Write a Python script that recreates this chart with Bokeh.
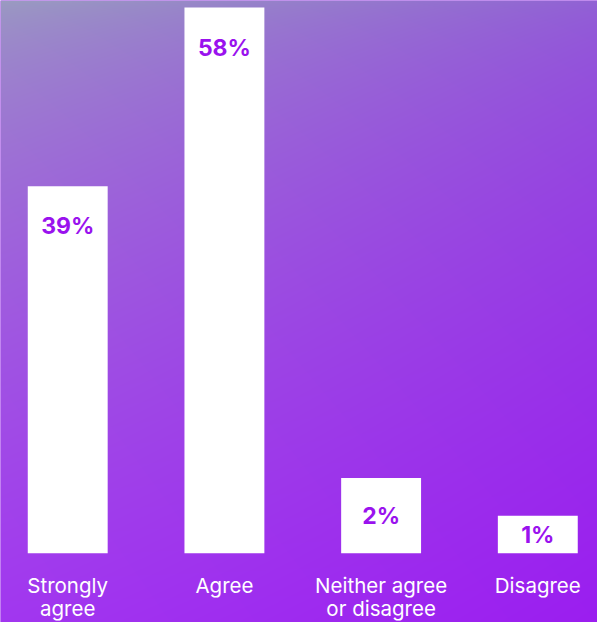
import numpy as np
from bokeh.plotting import figure
from bokeh.models import Range1d, ColumnDataSource
from bokeh.core.properties import value
from bokeh.embed import file_html
from bokeh.resources import INLINE

categories = ["Strongly\nagree", "Agree", "Neither agree\nor disagree", "Disagree"]
values = [39, 58, 2, 1]
labels = ["39%", "58%", "2%", "1%"]

W, H = 597, 622
X0, X1 = -0.429, 3.381
Y0, Y1 = -7.35, 58.75
# infographic style: very small bars are magnified so their labels fit
bar_top = [v if v >= 10 else v * 4 for v in values]
label_y = [max(t - 4.25, t / 2) for t in bar_top]
xs = list(range(len(categories)))

src = ColumnDataSource(dict(x=xs, top=bar_top, ly=label_y, lab=labels, cat=categories))

p = figure(width=W, height=H, output_backend="svg", toolbar_location=None,
           x_range=Range1d(X0, X1), y_range=Range1d(Y0, Y1),
           min_border=0)
p.axis.visible = False
p.grid.visible = False
p.outline_line_color = None
p.background_fill_color = "#a030f0"
p.border_fill_color = "#a030f0"

# background gradient
gx = np.linspace(0, 1, W)[None, :]
gy = np.linspace(0, 1, H)[:, None]
ty = gy ** 0.6
tl = np.array([154, 158, 192.0]); tr = np.array([145, 100, 212.0])
bl = np.array([162, 55, 240.0]); br = np.array([155, 30, 240.0])
img = np.zeros((H, W, 4), dtype=np.uint8)
for c in range(3):
    top_c = tl[c] * (1 - gx) + tr[c] * gx
    bot_c = bl[c] * (1 - gx) + br[c] * gx
    img[:, :, c] = np.clip(top_c * (1 - ty) + bot_c * ty, 0, 255).astype(np.uint8)
img[:, :, 3] = 255
img = img[::-1]
packed = img.view(dtype=np.uint32).reshape((H, W))
p.image_rgba(image=[packed], x=X0, y=Y0, dw=X1 - X0, dh=Y1 - Y0)

p.vbar(x="x", top="top", bottom=0, width=0.51, source=src,
       fill_color="white", line_color=None)

p.text(x="x", y="ly", text="lab", source=src, text_align="center",
       text_baseline="middle", text_color="#9a12ee", text_font_size="23px",
       text_font_style="bold", text_font=value("Inter"))

p.text(x="x", y=0, text="cat", source=src, text_align="center",
       text_baseline="top", y_offset=20, text_color="white",
       text_font_size="20.5px", text_line_height=0.92, text_font=value("Inter"))

open("out.html", "w").write(file_html(p, INLINE))
